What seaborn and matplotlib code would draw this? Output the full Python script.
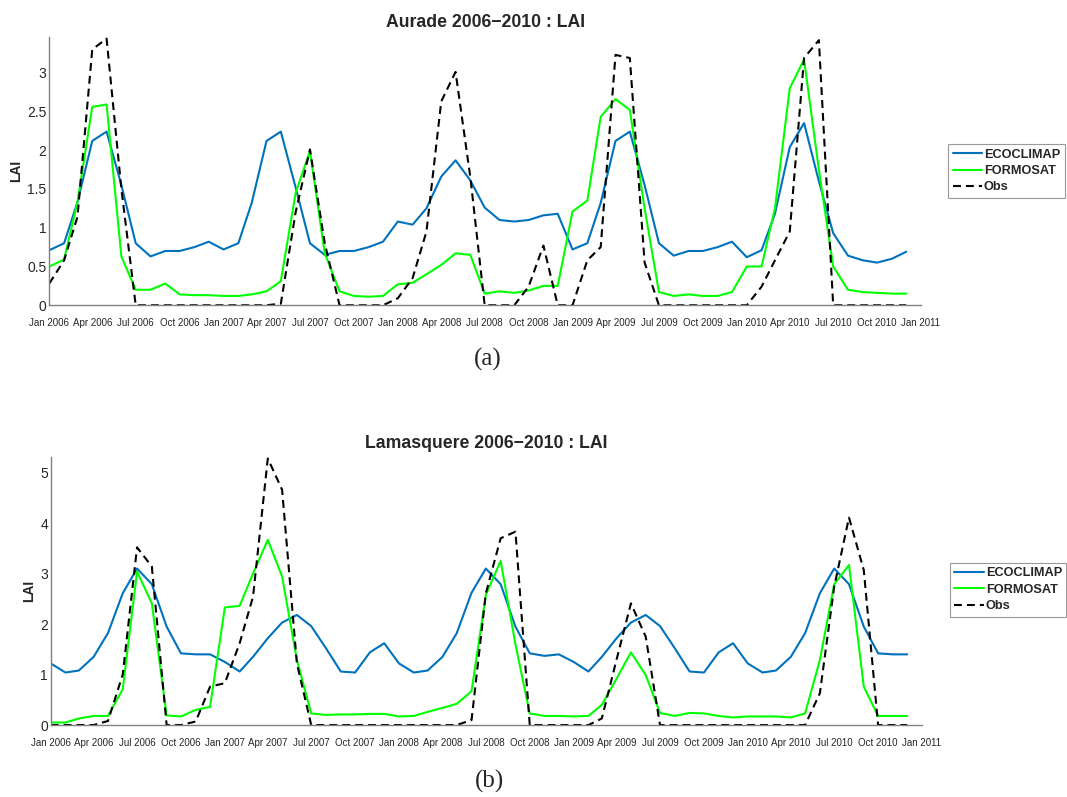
import matplotlib
matplotlib.use("Agg")
import matplotlib.pyplot as plt
import matplotlib.dates as mdates
from matplotlib.ticker import FuncFormatter
import numpy as np
import pandas as pd
import seaborn as sns

# monthly values, Jan 2006 .. Dec 2010
months = pd.date_range("2006-01-01", periods=60, freq="MS")

aurade_ecoclimap = [
    0.71, 0.80, 1.33, 2.12, 2.24, 1.55, 0.80, 0.63, 0.70, 0.70, 0.75, 0.82,
    0.72, 0.80, 1.32, 2.12, 2.24, 1.52, 0.80, 0.65, 0.70, 0.70, 0.75, 0.82,
    1.08, 1.04, 1.25, 1.66, 1.87, 1.61, 1.26, 1.10, 1.08, 1.10, 1.16, 1.18,
    0.72, 0.80, 1.32, 2.12, 2.24, 1.55, 0.80, 0.64, 0.70, 0.70, 0.75, 0.82,
    0.62, 0.71, 1.18, 2.04, 2.35, 1.60, 0.93, 0.64, 0.58, 0.55, 0.60, 0.69,
]
aurade_formosat = [
    0.50, 0.59, 1.33, 2.56, 2.59, 0.63, 0.20, 0.20, 0.28, 0.14, 0.13, 0.13,
    0.12, 0.12, 0.14, 0.18, 0.31, 1.45, 1.99, 0.67, 0.18, 0.12, 0.11, 0.12,
    0.27, 0.29, 0.40, 0.52, 0.67, 0.65, 0.15, 0.18, 0.16, 0.19, 0.25, 0.25,
    1.21, 1.35, 2.43, 2.66, 2.52, 1.25, 0.17, 0.12, 0.14, 0.12, 0.12, 0.17,
    0.50, 0.50, 1.25, 2.80, 3.17, 1.75, 0.50, 0.20, 0.17, 0.16, 0.15, 0.15,
]
aurade_obs = [
    0.28, 0.58, 1.14, 3.30, 3.44, 1.50, 0.00, 0.00, 0.00, 0.00, 0.00, 0.00,
    0.00, 0.00, 0.00, 0.00, 0.02, 1.20, 2.01, 0.80, 0.00, 0.00, 0.00, 0.00,
    0.09, 0.35, 0.95, 2.63, 3.01, 1.65, 0.00, 0.00, 0.00, 0.24, 0.77, 0.00,
    0.00, 0.58, 0.75, 3.23, 3.19, 0.55, 0.00, 0.00, 0.00, 0.00, 0.00, 0.00,
    0.00, 0.24, 0.58, 0.95, 3.19, 3.42, 0.00, 0.00, 0.00, 0.00, 0.00, 0.00,
]

lamasquere_ecoclimap = [
    1.22, 1.04, 1.08, 1.35, 1.82, 2.61, 3.10, 2.79, 1.95, 1.42, 1.40, 1.40,
    1.25, 1.06, 1.35, 1.72, 2.03, 2.18, 1.96, 1.52, 1.06, 1.04, 1.44, 1.62,
    1.22, 1.04, 1.08, 1.35, 1.82, 2.62, 3.10, 2.79, 1.95, 1.42, 1.37, 1.40,
    1.25, 1.06, 1.35, 1.72, 2.03, 2.18, 1.96, 1.52, 1.06, 1.04, 1.44, 1.62,
    1.22, 1.04, 1.08, 1.35, 1.82, 2.61, 3.10, 2.79, 1.95, 1.42, 1.40, 1.40,
]
lamasquere_formosat = [
    0.05, 0.05, 0.13, 0.18, 0.18, 0.71, 3.04, 2.41, 0.19, 0.17, 0.30, 0.36,
    2.33, 2.36, 3.00, 3.67, 2.94, 1.29, 0.23, 0.20, 0.21, 0.21, 0.22, 0.22,
    0.17, 0.18, 0.26, 0.34, 0.42, 0.67, 2.58, 3.25, 1.60, 0.23, 0.18, 0.18,
    0.17, 0.18, 0.40, 0.92, 1.44, 0.99, 0.24, 0.18, 0.24, 0.23, 0.18, 0.15,
    0.17, 0.17, 0.17, 0.15, 0.23, 1.29, 2.79, 3.17, 0.76, 0.18, 0.18, 0.18,
]
lamasquere_obs = [
    0.00, 0.00, 0.00, 0.00, 0.08, 1.00, 3.52, 3.14, 0.00, 0.00, 0.07, 0.76,
    0.83, 1.62, 2.54, 5.28, 4.66, 1.22, 0.00, 0.00, 0.00, 0.00, 0.00, 0.00,
    0.00, 0.00, 0.00, 0.00, 0.00, 0.10, 2.61, 3.70, 3.83, 0.00, 0.00, 0.00,
    0.00, 0.00, 0.13, 1.30, 2.41, 1.75, 0.00, 0.00, 0.00, 0.00, 0.00, 0.00,
    0.00, 0.00, 0.00, 0.00, 0.00, 0.63, 2.74, 4.11, 3.07, 0.00, 0.00, 0.00,
]

titles = ["Aurade 2006\u22122010 : LAI", "Lamasquere 2006\u22122010 : LAI"]
series_names = ["ECOCLIMAP", "FORMOSAT", "Obs"]
captions = ["(a)", "(b)"]

sns.set_style("white")
plt.rcParams["font.family"] = ["Liberation Sans", "DejaVu Sans"]

BLUE = "#0072BD"
GREEN = "#00FF00"
AXIS_GREY = "#808080"

fig = plt.figure(figsize=(10.67, 7.97), dpi=100)
ax_top = fig.add_axes([0.0462, 0.617, 0.817, 0.3365])
ax_bot = fig.add_axes([0.0475, 0.0903, 0.8166, 0.3357])

panels = [
    (ax_top, aurade_ecoclimap, aurade_formosat, aurade_obs, 3.46, np.arange(0, 3.01, 0.5), (1.031, 0.601)),
    (ax_bot, lamasquere_ecoclimap, lamasquere_formosat, lamasquere_obs, 5.30, np.arange(0, 5.01, 1), (1.032, 0.606)),
]

for k, (ax, eco, form, obs, ytop, yticks, leg_anchor) in enumerate(panels):
    df = pd.DataFrame({"date": months, "ECOCLIMAP": eco, "FORMOSAT": form, "Obs": obs})
    sns.lineplot(data=df, x="date", y="ECOCLIMAP", ax=ax, color=BLUE, lw=1.5, label=series_names[0])
    sns.lineplot(data=df, x="date", y="FORMOSAT", ax=ax, color=GREEN, lw=1.5, label=series_names[1])
    sns.lineplot(data=df, x="date", y="Obs", ax=ax, color="black", lw=1.5,
                 dashes=False, linestyle=(0, (3.8, 2.4)), label=series_names[2])

    ax.set_xlim(pd.Timestamp("2006-01-01"), pd.Timestamp("2011-01-01"))
    ax.set_ylim(0, ytop)
    ax.set_yticks(yticks)
    ax.yaxis.set_major_formatter(FuncFormatter(lambda v, p: f"{v:g}"))
    ax.xaxis.set_major_locator(mdates.MonthLocator(bymonth=[1, 4, 7, 10]))
    ax.xaxis.set_major_formatter(mdates.DateFormatter("%b %Y"))

    for side in ["top", "right"]:
        ax.spines[side].set_visible(False)
    for side in ["left", "bottom"]:
        ax.spines[side].set_color(AXIS_GREY)
        ax.spines[side].set_linewidth(1.0)
    ax.tick_params(axis="x", direction="in", length=6, width=0.8, color=AXIS_GREY,
                   labelsize=7, pad=9, labelcolor="#262626")
    ax.tick_params(axis="y", direction="in", length=6, width=0.8, color=AXIS_GREY,
                   labelsize=10, pad=2, labelcolor="#262626")

    ax.set_xlabel("")
    ax.set_ylabel("LAI", fontsize=10, fontweight="bold", labelpad=3)
    ax.set_title(titles[k], fontsize=12.7, fontweight="bold", pad=7)

    leg = ax.legend(loc="upper left", bbox_to_anchor=leg_anchor, borderaxespad=0,
                    frameon=True, fancybox=False, prop={"size": 9.2, "weight": "bold"},
                    handlelength=2.3, handletextpad=0.15, borderpad=0.35, labelspacing=0.35)
    leg.get_frame().set_edgecolor(AXIS_GREY)
    leg.get_frame().set_linewidth(0.8)

fig.text(0.457, 0.549, captions[0], ha="center", va="center", fontsize=18, family="Liberation Serif")
fig.text(0.459, 0.019, captions[1], ha="center", va="center", fontsize=18, family="Liberation Serif")

fig.savefig("out.png", dpi=100)
